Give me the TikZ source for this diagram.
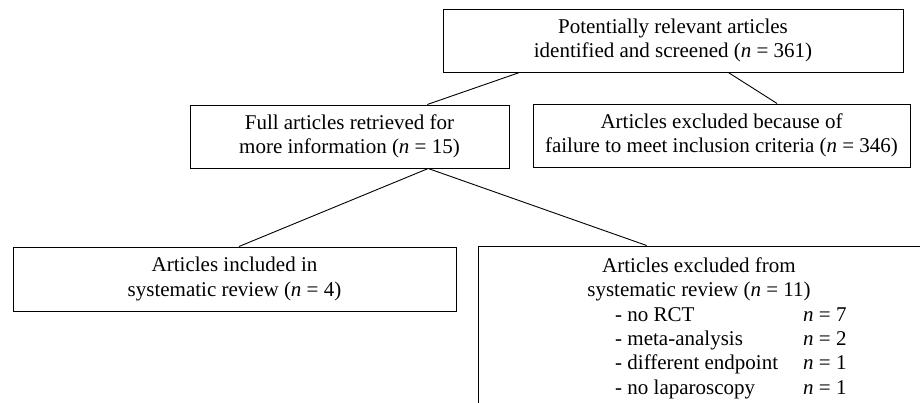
\documentclass[tikz,border=0pt]{standalone}
\usepackage{fontspec}
\setmainfont{Liberation Serif}
\usetikzlibrary{calc}
\begin{document}
\begin{tikzpicture}[x=1pt,y=-1pt,
  every node/.style={font=\fontsize{21}{24.4}\selectfont},
  box/.style={draw, line width=1pt, inner sep=0pt, align=center},
  txt/.style={inner sep=0pt},
  link/.style={line width=0.9pt}]
\useasboundingbox (0,0) rectangle (920,402);
\clip (0,0) rectangle (920,402);
\node[box, minimum width=460pt, minimum height=63pt] (top) at (673,40.5)
  {Potentially relevant articles\\identified and screened (\textit{n} = 361)};
\node[box, minimum width=319pt, minimum height=63pt] (full) at (349.5,136.5)
  {Full articles retrieved for\\more information (\textit{n} = 15)};
\node[box, minimum width=377pt, minimum height=63pt] (fail) at (721.5,135.5)
  {Articles excluded because of\\failure to meet inclusion criteria (\textit{n} = 346)};
\node[box, minimum width=443pt, minimum height=64pt] (incl) at (234.5,279)
  {Articles included in\\systematic review (\textit{n} = 4)};
\node[box, minimum width=444pt, minimum height=174pt] (excl) at (700,333) {};
\node[txt, anchor=base] (exhead) at (699,272.5)
  {\begin{tabular}[t]{@{}c@{}}Articles excluded from\\systematic review (\textit{n} = 11)\end{tabular}};
\node[txt, anchor=base west] (exlist) at (615,321)
  {\begin{tabular}[t]{@{}p{188pt}@{}l@{}}
   - no RCT & \textit{n} = 7\\
   - meta-analysis & \textit{n} = 2\\
   - different endpoint & \textit{n} = 1\\
   - no laparoscopy & \textit{n} = 1
   \end{tabular}};
\draw[link] ($(top.south west)!0.167!(top.south east)$) -- ($(full.north west)!0.743!(full.north east)$);
\draw[link] ($(top.south west)!0.62!(top.south east)$) -- ($(fail.north west)!0.647!(fail.north east)$);
\draw[link] ($(full.south west)!0.746!(full.south east)$) coordinate (fs) -- ($(incl.north west)!0.51!(incl.north east)$);
\draw[link] (fs) -- ($(excl.north west)!0.38!(excl.north east)$);
\end{tikzpicture}
\end{document}
